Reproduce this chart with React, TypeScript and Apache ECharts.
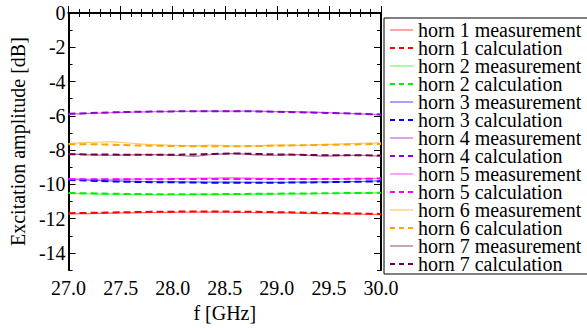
import React, { useEffect, useRef } from "react";
import * as echarts from "echarts";

const freqs = [27.0, 27.2, 27.4, 27.6, 27.8, 28.0, 28.2, 28.4, 28.6, 28.8, 29.0, 29.2, 29.4, 29.6, 29.8, 30.0];

const horn1Meas = [-11.72, -11.70, -11.68, -11.66, -11.64, -11.63, -11.62, -11.62, -11.63, -11.65, -11.66, -11.68, -11.70, -11.72, -11.74, -11.76];
const horn1Calc = [-11.68, -11.66, -11.64, -11.62, -11.60, -11.59, -11.58, -11.58, -11.59, -11.60, -11.62, -11.64, -11.66, -11.68, -11.70, -11.72];
const horn2Meas = [-10.52, -10.55, -10.57, -10.58, -10.60, -10.60, -10.59, -10.58, -10.58, -10.57, -10.56, -10.55, -10.54, -10.52, -10.51, -10.50];
const horn2Calc = [-10.50, -10.52, -10.54, -10.56, -10.57, -10.58, -10.58, -10.57, -10.56, -10.55, -10.54, -10.53, -10.52, -10.51, -10.50, -10.49];
const horn3Meas = [-9.70, -9.75, -9.80, -9.82, -9.84, -9.85, -9.86, -9.87, -9.87, -9.88, -9.88, -9.87, -9.86, -9.85, -9.83, -9.80];
const horn3Calc = [-9.75, -9.78, -9.82, -9.85, -9.87, -9.88, -9.89, -9.90, -9.90, -9.90, -9.90, -9.89, -9.88, -9.86, -9.84, -9.82];
const horn4Meas = [-5.92, -5.86, -5.82, -5.78, -5.76, -5.74, -5.73, -5.72, -5.72, -5.73, -5.75, -5.77, -5.80, -5.84, -5.88, -5.94];
const horn4Calc = [-5.88, -5.84, -5.80, -5.77, -5.75, -5.74, -5.73, -5.73, -5.73, -5.74, -5.76, -5.79, -5.82, -5.85, -5.88, -5.92];
const horn5Meas = [-9.68, -9.70, -9.70, -9.69, -9.68, -9.66, -9.64, -9.63, -9.62, -9.64, -9.66, -9.68, -9.68, -9.67, -9.66, -9.64];
const horn5Calc = [-9.70, -9.70, -9.70, -9.70, -9.70, -9.69, -9.68, -9.68, -9.68, -9.68, -9.68, -9.68, -9.68, -9.68, -9.67, -9.66];
const horn6Meas = [-7.62, -7.55, -7.52, -7.60, -7.68, -7.72, -7.74, -7.70, -7.76, -7.75, -7.70, -7.72, -7.68, -7.65, -7.60, -7.58];
const horn6Calc = [-7.66, -7.66, -7.68, -7.72, -7.74, -7.76, -7.77, -7.78, -7.78, -7.76, -7.74, -7.72, -7.70, -7.68, -7.66, -7.64];
const horn7Meas = [-8.22, -8.28, -8.30, -8.28, -8.26, -8.30, -8.35, -8.24, -8.20, -8.28, -8.30, -8.26, -8.34, -8.32, -8.30, -8.36];
const horn7Calc = [-8.24, -8.25, -8.26, -8.27, -8.27, -8.27, -8.25, -8.22, -8.20, -8.22, -8.25, -8.27, -8.29, -8.30, -8.30, -8.32];

const hornNames = ["horn 1", "horn 2", "horn 3", "horn 4", "horn 5", "horn 6", "horn 7"];
const hornColors = ["#ff0000", "#00ee00", "#0000ff", "#9400d3", "#ff00ff", "#ffa500", "#72004a"];
const measColors = ["#ff6666", "#66ff66", "#6666ff", "#bf66e5", "#ff66ff", "#ffc966", "#aa6690"];
const measData = [horn1Meas, horn2Meas, horn3Meas, horn4Meas, horn5Meas, horn6Meas, horn7Meas];
const calcData = [horn1Calc, horn2Calc, horn3Calc, horn4Calc, horn5Calc, horn6Calc, horn7Calc];

const yMajorTicks = [0, -2, -4, -6, -8, -10, -12, -14];
const yMinorTicks = [-1, -3, -5, -7, -9, -11, -13, -15];

const FONT = "Times New Roman, Liberation Serif, serif";

export default function App() {
  const ref = useRef<HTMLDivElement>(null);
  useEffect(() => {
    if (!ref.current) return;
    const chart = echarts.init(ref.current, undefined, { renderer: "svg" });
    const series: any[] = [];
    const legendData: any[] = [];
    hornNames.forEach((h, i) => {
      series.push({
        name: h + " measurement",
        type: "line",
        data: freqs.map((f, k) => [f, measData[i][k]]),
        symbol: "none",
        smooth: true,
        color: measColors[i],
        lineStyle: { color: measColors[i], width: 1.2 },
        itemStyle: { color: measColors[i] },
      });
      series.push({
        name: h + " calculation",
        type: "line",
        data: freqs.map((f, k) => [f, calcData[i][k]]),
        symbol: "none",
        smooth: true,
        color: hornColors[i],
        lineStyle: { color: hornColors[i], width: 2, type: [7, 4] },
        itemStyle: { color: hornColors[i] },
      });
      legendData.push({
        name: h + " measurement",
        itemStyle: { opacity: 0 },
        lineStyle: { color: measColors[i], width: 1.2, type: "solid" },
      });
      legendData.push({
        name: h + " calculation",
        itemStyle: { opacity: 0 },
        lineStyle: { color: hornColors[i], width: 2, type: [5, 4] },
      });
    });

    const axisLine = { show: true, lineStyle: { color: "#000", width: 2 } };
    const baseY = {
      type: "value",
      min: -15,
      max: 0,
      splitLine: { show: false },
    };
    const baseX = {
      type: "value",
      min: 27,
      max: 30,
      interval: 0.5,
      splitLine: { show: false },
    };

    chart.setOption({
      animation: false,
      backgroundColor: "#fff",
      textStyle: { fontFamily: FONT },
      grid: { left: 62, top: 13, width: 319, height: 273, containLabel: false },
      xAxis: [
        {
          ...baseX,
          position: "bottom",
          axisLine,
          axisTick: { show: true, inside: true, length: 7, lineStyle: { color: "#000", width: 1 } },
          minorTick: { show: true, splitNumber: 5, length: 4, lineStyle: { color: "#000", width: 1 } },
          axisLabel: {
            show: true,
            margin: 8,
            color: "#000",
            fontFamily: FONT,
            fontSize: 20,
            formatter: (v: number) => v.toFixed(1),
          },
          name: "f [GHz]",
          nameLocation: "middle",
          nameGap: 31,
          nameTextStyle: { color: "#000", fontFamily: FONT, fontSize: 20 },
        },
        {
          ...baseX,
          position: "top",
          axisLine,
          axisTick: { show: true, inside: true, length: 7, lineStyle: { color: "#000", width: 1 } },
          minorTick: { show: true, splitNumber: 5, length: 4, lineStyle: { color: "#000", width: 1 } },
          axisLabel: { show: false },
        },
      ],
      yAxis: [
        {
          ...baseY,
          position: "left",
          axisLine,
          axisTick: { show: true, inside: true, length: 7, customValues: yMajorTicks, lineStyle: { color: "#000", width: 1 } },
          axisLabel: {
            show: true,
            margin: 3,
            color: "#000",
            fontFamily: FONT,
            fontSize: 20,
            customValues: yMajorTicks,
            formatter: (v: number) => String(v),
          },
          name: "Excitation amplitude [dB]",
          nameLocation: "middle",
          nameGap: 38,
          nameTextStyle: { color: "#000", fontFamily: FONT, fontSize: 20 },
        },
        {
          ...baseY,
          position: "left",
          axisLine: { show: false },
          axisTick: { show: true, inside: true, length: 4, customValues: yMinorTicks, lineStyle: { color: "#000", width: 1 } },
          axisLabel: { show: false },
        },
        {
          ...baseY,
          position: "right",
          axisLine,
          axisTick: { show: true, inside: true, length: 7, customValues: yMajorTicks, lineStyle: { color: "#000", width: 1 } },
          axisLabel: { show: false },
        },
        {
          ...baseY,
          position: "right",
          axisLine: { show: false },
          axisTick: { show: true, inside: true, length: 4, customValues: yMinorTicks, lineStyle: { color: "#000", width: 1 } },
          axisLabel: { show: false },
        },
      ],
      legend: {
        orient: "vertical",
        left: 384,
        top: 18,
        padding: [2, 12, 0, 5],
        itemGap: -2,
        itemWidth: 23,
        itemHeight: 10,
        borderColor: "#000",
        borderWidth: 1,
        backgroundColor: "#fff",
        data: legendData,
        textStyle: { color: "#000", fontFamily: FONT, fontSize: 20 },
      },
      series,
    });
    return () => chart.dispose();
  }, []);
  return <div ref={ref} style={{ width: 587, height: 328, position: "absolute", left: 0, top: 0 }} />;
}
